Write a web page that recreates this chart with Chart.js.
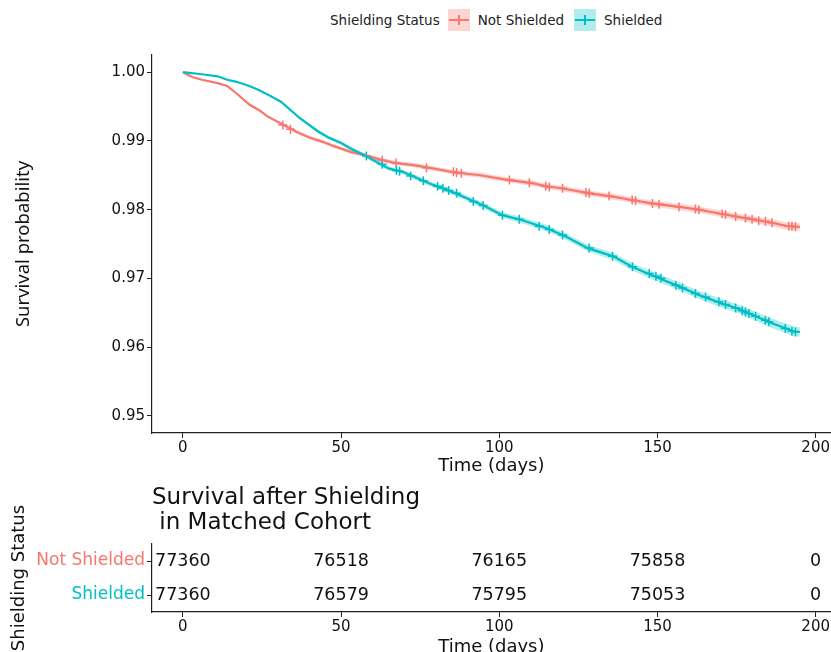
<!DOCTYPE html>
<html>
<head>
<meta charset="utf-8">
<script src="https://cdn.jsdelivr.net/npm/chart.js@4.4.1/dist/chart.umd.min.js"></script>
<style>
    body { margin: 0; background: #fff; }
    #wrap { position: relative; width: 831px; height: 652px; overflow: hidden; font-family: "DejaVu Sans", sans-serif; }
    #legend { position: absolute; top: 9px; left: 330px; height: 22px; display: flex; align-items: center; font-size: 13.5px; color: #222; white-space: nowrap; }
    .key { position: relative; width: 22px; height: 22px; margin: 0 8px; }
    .key.second { margin: 0 8px 0 10px; }
    .key .h { position: absolute; left: 1px; right: 1px; top: 10px; height: 2px; }
    .key .v { position: absolute; top: 6px; bottom: 6px; left: 10px; width: 2px; }
    #kmChart { position: absolute; left: 0; top: 40px; }
    #riskChart { position: absolute; left: 0; top: 480px; }
    #riskTitle { position: absolute; left: 152px; top: 484px; font-size: 23px; line-height: 25px; white-space: pre; color: #111; }
</style>
</head>
<body>
<div id="wrap">
    <div id="legend">
        <span>Shielding Status</span>
        <div class="key" style="background: rgba(248,118,109,0.3)"><div class="h" style="background:#F8766D"></div><div class="v" style="background:#F8766D"></div></div>
        <span>Not Shielded</span>
        <div class="key second" style="background: rgba(0,191,196,0.3)"><div class="h" style="background:#00BFC4"></div><div class="v" style="background:#00BFC4"></div></div>
        <span>Shielded</span>
    </div>
    <canvas id="kmChart" width="831" height="440"></canvas>
    <canvas id="riskChart" width="831" height="179"></canvas>
    <div id="riskTitle">Survival after Shielding
 in Matched Cohort</div>
</div>
<script>
    // axis ticks
    const xTicks = [0, 50, 100, 150, 200];
    const yTicks = [0.95, 0.96, 0.97, 0.98, 0.99, 1.00];
    const groups = ['Not Shielded', 'Shielded'];

    // Not Shielded survival curve
    const notShieldedDays = [0, 3, 6, 11, 14, 17, 21, 24, 27, 32, 36, 40, 44, 48, 53, 57, 63, 67, 74, 79, 86, 94, 103, 110, 115, 121, 128, 136, 142, 148, 157, 163, 170, 176, 181, 186, 191, 195];
    const notShieldedSurv = [1.0, 0.9993, 0.9989, 0.9984, 0.9980, 0.9969, 0.9953, 0.9945, 0.9935, 0.9923, 0.9913, 0.9905, 0.9899, 0.9892, 0.9884, 0.9880, 0.9872, 0.9868, 0.9864, 0.9860, 0.9854, 0.9850, 0.9843, 0.9839, 0.9834, 0.9830, 0.9824, 0.9819, 0.9814, 0.9809, 0.9804, 0.9800, 0.9794, 0.9789, 0.9785, 0.9781, 0.9776, 0.9775];
    const notShieldedCI = [0, 0.00004, 0.00007, 0.0001, 0.00012, 0.00014, 0.00017, 0.00019, 0.0002, 0.00022, 0.00024, 0.00025, 0.00026, 0.00027, 0.00028, 0.00029, 0.0003, 0.00031, 0.00032, 0.00033, 0.00034, 0.00035, 0.00036, 0.00037, 0.00038, 0.00039, 0.0004, 0.00041, 0.00042, 0.00043, 0.00044, 0.00045, 0.00046, 0.00047, 0.00048, 0.0005, 0.00052, 0.00054];
    const notShieldedCensorDays = [31.6, 34, 63, 67.4, 77, 85.5, 86.5, 88, 103.2, 109.5, 114.7, 115.8, 120, 127.4, 128.4, 134.7, 142, 143.1, 148.4, 150.5, 156.8, 162, 163.1, 170.4, 171.5, 174.7, 177.8, 179.9, 182, 184.1, 186.2, 191.5, 192.5, 193.6];
    const notShieldedCensorSurv = [0.9923, 0.9917, 0.9872, 0.9868, 0.9861, 0.9855, 0.9854, 0.9853, 0.9843, 0.9839, 0.9834, 0.9833, 0.9831, 0.9825, 0.9824, 0.9820, 0.9814, 0.9813, 0.9809, 0.9808, 0.9804, 0.9801, 0.9800, 0.9794, 0.9793, 0.9790, 0.9788, 0.9786, 0.9784, 0.9783, 0.9781, 0.9776, 0.9776, 0.9775];

    // Shielded survival curve
    const shieldedDays = [0, 6, 11, 14, 17, 21, 24, 27, 31, 34, 37, 40, 43, 46, 50, 53, 57, 61, 65, 70, 74, 78, 82, 86, 91, 95, 101, 107, 115, 121, 128, 136, 142, 148, 157, 163, 170, 176, 181, 186, 193, 195];
    const shieldedSurv = [1.0, 0.9997, 0.9994, 0.9989, 0.9986, 0.9980, 0.9974, 0.9967, 0.9957, 0.9945, 0.9933, 0.9923, 0.9913, 0.9905, 0.9897, 0.9889, 0.9880, 0.9870, 0.9860, 0.9854, 0.9846, 0.9838, 0.9831, 0.9824, 0.9814, 0.9806, 0.9792, 0.9785, 0.9773, 0.9761, 0.9744, 0.9732, 0.9717, 0.9705, 0.9688, 0.9676, 0.9664, 0.9655, 0.9645, 0.9635, 0.9623, 0.9622];
    const shieldedCI = [0, 0.00004, 0.00006, 0.00008, 0.0001, 0.00012, 0.00014, 0.00016, 0.00018, 0.0002, 0.00022, 0.00023, 0.00024, 0.00026, 0.00027, 0.00028, 0.0003, 0.00031, 0.00032, 0.00034, 0.00035, 0.00036, 0.00037, 0.00038, 0.0004, 0.00041, 0.00043, 0.00044, 0.00046, 0.00048, 0.0005, 0.00052, 0.00054, 0.00056, 0.00058, 0.0006, 0.00062, 0.00064, 0.00066, 0.00068, 0.0007, 0.0007];
    const shieldedCensorDays = [58, 63, 67.5, 68.5, 72, 76, 80.5, 82.2, 84, 86.5, 91.8, 94.9, 101, 106.3, 112.6, 115.8, 120, 128.4, 135.8, 142.1, 147.4, 149.5, 151.1, 155.8, 157.9, 162, 165.2, 169.4, 171.5, 174.7, 176.8, 177.8, 178.9, 181, 184.1, 185.2, 190.4, 192.5, 193.6];
    const shieldedCensorSurv = [0.9878, 0.9866, 0.9857, 0.9856, 0.9849, 0.9842, 0.9834, 0.9831, 0.9828, 0.9824, 0.9812, 0.9806, 0.9792, 0.9786, 0.9776, 0.9771, 0.9763, 0.9744, 0.9732, 0.9717, 0.9707, 0.9703, 0.9700, 0.9690, 0.9686, 0.9678, 0.9673, 0.9666, 0.9662, 0.9657, 0.9653, 0.9651, 0.9649, 0.9645, 0.9639, 0.9637, 0.9627, 0.9623, 0.9622];

    // numbers at risk
    const riskTimes = [0, 50, 100, 150, 200];
    const riskNotShielded = [77360, 76518, 76165, 75858, 0];
    const riskShielded = [77360, 76579, 75795, 75053, 0];

    const RED = '#F8766D';
    const TEAL = '#00BFC4';
    const RED_FILL = 'rgba(248,118,109,0.3)';
    const TEAL_FILL = 'rgba(0,191,196,0.3)';
    const AXIS = '#222';

    function points(xs, ys) {
        return xs.map((x, i) => ({x: x, y: ys[i]}));
    }

    function bandEdge(xs, ys, ci, sign) {
        return xs.map((x, i) => ({x: x, y: ys[i] + sign * ci[i]}));
    }

    function lineSet(label, data, color) {
        return {label: label, data: data, borderColor: color, borderWidth: 2.2, pointRadius: 0, tension: 0, fill: false};
    }

    function censorSet(label, data, color) {
        return {
            label: label, data: data, showLine: false, pointStyle: 'cross',
            pointRadius: 4.5, pointBorderColor: color, pointBorderWidth: 1.5, pointBackgroundColor: color
        };
    }

    function bandSet(label, data, fill, color) {
        return {label: label, data: data, borderWidth: 0, pointRadius: 0, tension: 0, fill: fill, backgroundColor: color};
    }

    const tickFont = {family: 'DejaVu Sans', size: 15};
    const axisGrid = {display: true, drawOnChartArea: false, drawTicks: true, tickLength: 5, color: AXIS, tickWidth: 1};
    const axisBorder = {display: true, color: AXIS, width: 1.2};

    Chart.defaults.animation = false;

    new Chart(document.getElementById('kmChart').getContext('2d'), {
        type: 'line',
        data: {
            datasets: [
                lineSet('Shielded', points(shieldedDays, shieldedSurv), TEAL),
                lineSet('Not Shielded', points(notShieldedDays, notShieldedSurv), RED),
                censorSet('Shielded censored', points(shieldedCensorDays, shieldedCensorSurv), TEAL),
                censorSet('Not Shielded censored', points(notShieldedCensorDays, notShieldedCensorSurv), RED),
                bandSet('Not Shielded upper', bandEdge(notShieldedDays, notShieldedSurv, notShieldedCI, 1), '+1', RED_FILL),
                bandSet('Not Shielded lower', bandEdge(notShieldedDays, notShieldedSurv, notShieldedCI, -1), false, RED_FILL),
                bandSet('Shielded upper', bandEdge(shieldedDays, shieldedSurv, shieldedCI, 1), '+1', TEAL_FILL),
                bandSet('Shielded lower', bandEdge(shieldedDays, shieldedSurv, shieldedCI, -1), false, TEAL_FILL)
            ]
        },
        options: {
            responsive: false,
            devicePixelRatio: 1,
            animation: false,
            layout: {autoPadding: false, padding: {top: 15, right: 0, bottom: 0, left: 0}},
            plugins: {legend: {display: false}, tooltip: {enabled: false}},
            scales: {
                x: {
                    type: 'linear',
                    min: -9.75,
                    max: 204.75,
                    afterBuildTicks: scale => { scale.ticks = xTicks.map(v => ({value: v})); },
                    afterFit: scale => { scale.height = 47; },
                    grid: axisGrid,
                    border: axisBorder,
                    ticks: {padding: 1, color: '#111', font: tickFont, maxRotation: 0, autoSkip: false},
                    title: {display: true, text: 'Time (days)', color: '#111', font: {family: 'DejaVu Sans', size: 18}, padding: {top: 0, bottom: 3}}
                },
                y: {
                    type: 'linear',
                    min: 0.9475,
                    max: 1.0025,
                    afterBuildTicks: scale => { scale.ticks = yTicks.map(v => ({value: v})); },
                    afterFit: scale => { scale.width = 152; },
                    grid: axisGrid,
                    border: axisBorder,
                    ticks: {padding: 2, color: '#111', font: tickFont, callback: v => v.toFixed(2)},
                    title: {display: true, text: 'Survival probability', color: '#111', font: {family: 'Noto Sans', size: 18.5}, padding: {top: 13, bottom: 0}}
                }
            }
        }
    });

    const riskLabels = {
        id: 'riskLabels',
        afterDatasetsDraw(chart) {
            const ctx = chart.ctx;
            ctx.save();
            ctx.font = '17.5px "DejaVu Sans"';
            ctx.fillStyle = '#111';
            ctx.textAlign = 'center';
            ctx.textBaseline = 'middle';
            chart.data.datasets.forEach((ds, di) => {
                chart.getDatasetMeta(di).data.forEach((pt, i) => {
                    ctx.fillText(String(ds.counts[i]), pt.x, pt.y);
                });
            });
            ctx.restore();
        }
    };

    function riskSet(group, counts) {
        return {
            label: group,
            data: riskTimes.map(t => ({x: t, y: group})),
            counts: counts,
            showLine: false,
            pointRadius: 0
        };
    }

    new Chart(document.getElementById('riskChart').getContext('2d'), {
        type: 'line',
        data: {
            datasets: [
                riskSet(groups[0], riskNotShielded),
                riskSet(groups[1], riskShielded)
            ]
        },
        options: {
            responsive: false,
            devicePixelRatio: 1,
            animation: false,
            clip: false,
            layout: {autoPadding: false, padding: {top: 64, right: 0, bottom: 0, left: 0}},
            plugins: {legend: {display: false}, tooltip: {enabled: false}},
            scales: {
                x: {
                    type: 'linear',
                    min: -9.75,
                    max: 204.75,
                    afterBuildTicks: scale => { scale.ticks = xTicks.map(v => ({value: v})); },
                    afterFit: scale => { scale.height = 47; },
                    grid: axisGrid,
                    border: axisBorder,
                    ticks: {padding: 1, color: '#111', font: tickFont, maxRotation: 0, autoSkip: false},
                    title: {display: true, text: 'Time (days)', color: '#111', font: {family: 'DejaVu Sans', size: 18}, padding: {top: 0, bottom: 1}}
                },
                y: {
                    type: 'category',
                    labels: groups,
                    offset: true,
                    afterFit: scale => { scale.width = 152; },
                    grid: Object.assign({}, axisGrid, {offset: false}),
                    border: axisBorder,
                    ticks: {padding: 2, font: {family: 'DejaVu Sans', size: 17}, color: ctx => (ctx.index === 0 ? RED : TEAL)},
                    title: {display: true, text: 'Shielding Status', color: '#111', font: {family: 'DejaVu Sans', size: 18}, padding: {top: 9, bottom: 0}}
                }
            }
        },
        plugins: [riskLabels]
    });
</script>
</body>
</html>
